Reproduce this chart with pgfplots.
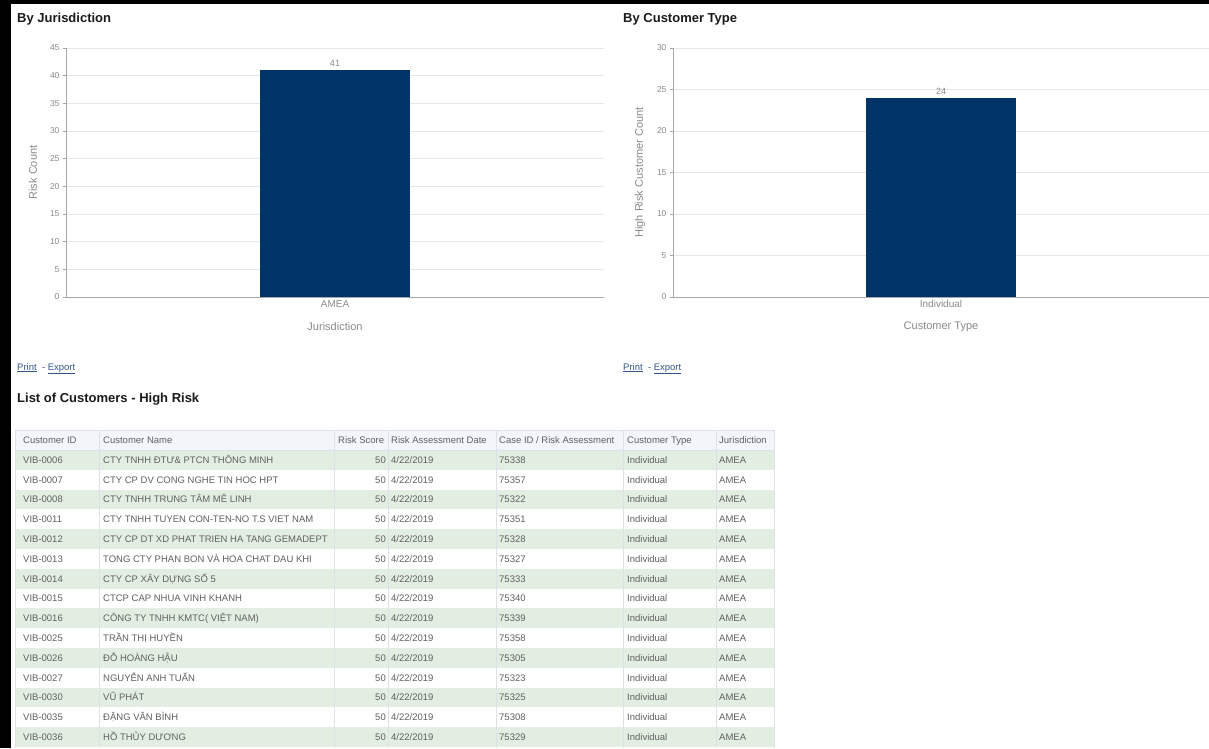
\documentclass[border=0pt]{standalone}
\usepackage{pgfplots}
\pgfplotsset{compat=1.18}
\usepackage{fontspec}
\setmainfont{Liberation Sans}
\definecolor{navy}{HTML}{003366}
\definecolor{gridc}{HTML}{E6E6E6}
\definecolor{axc}{HTML}{A8A8A8}
\definecolor{tickc}{HTML}{8A8A8A}
\definecolor{titlec}{HTML}{1A1A1A}
\definecolor{linkc}{HTML}{34558A}
\definecolor{rowg}{HTML}{E3EEE3}
\definecolor{hdr}{HTML}{F2F5F9}
\definecolor{sepc}{HTML}{DCE2E8}
\definecolor{txt}{HTML}{606060}

\pgfplotsset{
  barchart/.style={
    scale only axis, anchor=south west,
    axis x line*=bottom, axis y line*=left,
    axis line style={draw=axc, line width=0.8pt},
    ymajorgrids, grid style={draw=gridc, line width=0.9pt},
    xmin=-0.5, xmax=0.5, xtick={0},
    ymin=0, ytick align=outside, major tick length=3pt,
    ytick style={draw=axc, line width=0.6pt}, xtick style={draw=none},
    yticklabel style={font=\fontsize{8.5}{10}\selectfont, text=tickc},
    xticklabel style={font=\fontsize{10}{12}\selectfont, text=tickc},
    /pgf/number format/assume math mode=true,
    every axis y label/.style={at={(axis description cs:0,0.5)}, xshift=-33pt, rotate=90, anchor=center, font=\fontsize{11}{13}\selectfont, text=tickc},
    every axis x label/.style={at={(axis description cs:0.5,0)}, anchor=center, yshift=-30pt, font=\fontsize{11}{13}\selectfont, text=tickc},
    nodes near coords,
    every node near coord/.append style={font=\fontsize{9}{10}\selectfont, text=tickc},
  }
}

\newcommand\tfont{\fontsize{9.5}{11}\selectfont}
\newcommand\trow[4]{%
  \pgfmathsetmacro\yc{440+19.8*#1}%
  \ifodd#1\relax \fill[rowg] (15,{\yc-9.9}) rectangle (774,{\yc+9.9});\fi
  \node[anchor=base west, inner sep=0pt, text=txt, font=\tfont] at (23,{\yc+3.4}) {#2};
  \node[anchor=base west, inner sep=0pt, text=txt, font=\tfont] at (103,{\yc+3.4}) {#3};
  \node[anchor=base east, inner sep=0pt, text=txt, font=\tfont] at (386,{\yc+3.4}) {50};
  \node[anchor=base west, inner sep=0pt, text=txt, font=\tfont] at (391,{\yc+3.4}) {4/22/2019};
  \node[anchor=base west, inner sep=0pt, text=txt, font=\tfont] at (499,{\yc+3.4}) {#4};
  \node[anchor=base west, inner sep=0pt, text=txt, font=\tfont] at (627,{\yc+3.4}) {Individual};
  \node[anchor=base west, inner sep=0pt, text=txt, font=\tfont] at (719,{\yc+3.4}) {AMEA};
}

\begin{document}
\begin{tikzpicture}
\useasboundingbox (0pt,0pt) rectangle (1209pt,-748pt);
\fill[white] (0pt,0pt) rectangle (1209pt,-748pt);

% ---------- Chart 1 ----------
\begin{axis}[barchart, at={(66pt,-297pt)}, width=538pt, height=249pt,
  ymax=45, ytick={0,5,...,45}, xticklabels={AMEA},
  xlabel={Jurisdiction}, ylabel={Risk Count}]
\addplot[ybar, bar width=150pt, bar shift=0pt, fill=navy, draw=none] coordinates {(0,41)};
\end{axis}

% ---------- Chart 2 ----------
\begin{axis}[barchart, at={(673pt,-297pt)}, width=536pt, height=249pt,
  ymax=30, ytick={0,5,...,30}, xticklabels={Individual},
  xlabel={Customer Type}, ylabel={High Risk Customer Count}]
\addplot[ybar, bar width=150pt, bar shift=0pt, fill=navy, draw=none] coordinates {(0,24)};
\end{axis}

\begin{scope}[x=1pt,y=-1pt]
% titles
\node[anchor=base west, inner sep=0pt, font=\fontsize{13}{15}\selectfont\bfseries, text=titlec] at (17,22) {By Jurisdiction};
\node[anchor=base west, inner sep=0pt, font=\fontsize{13}{15}\selectfont\bfseries, text=titlec] at (623,22) {By Customer Type};
\node[anchor=base west, inner sep=0pt, font=\fontsize{13}{15}\selectfont\bfseries, text=titlec] at (17,402) {List of Customers - High Risk};
% print - export
\node[anchor=base west, inner sep=0pt, font=\fontsize{9.5}{11}\selectfont, text=linkc] at (17,370) {\underline{Print}\ \ -\ \underline{Export}};
\node[anchor=base west, inner sep=0pt, font=\fontsize{9.5}{11}\selectfont, text=linkc] at (623,370) {\underline{Print}\ \ -\ \underline{Export}};

% table header
\fill[hdr] (15,430) rectangle (774,450);
\foreach \i/\id/\nm/\cs in {
  1/VIB-0006/CTY TNHH ĐTƯ\& PTCN THÔNG MINH/75338,
  2/VIB-0007/CTY CP DV CONG NGHE TIN HOC HPT/75357,
  3/VIB-0008/CTY TNHH TRUNG TÂM MÊ LINH/75322,
  4/VIB-0011/CTY TNHH TUYEN CON-TEN-NO T.S VIET NAM/75351,
  5/VIB-0012/CTY CP DT XD PHAT TRIEN HA TANG GEMADEPT/75328,
  6/VIB-0013/TONG CTY PHAN BON VÀ HOA CHAT DAU KHI/75327,
  7/VIB-0014/CTY CP XÂY DỰNG SỐ 5/75333,
  8/VIB-0015/CTCP CAP NHUA VINH KHANH/75340,
  9/VIB-0016/CÔNG TY TNHH KMTC( VIỆT NAM)/75339,
  10/VIB-0025/TRẦN THỊ HUYỀN/75358,
  11/VIB-0026/ĐỖ HOÀNG HẬU/75305,
  12/VIB-0027/NGUYỄN ANH TUẤN/75323,
  13/VIB-0030/VŨ PHÁT/75325,
  14/VIB-0035/ĐẶNG VĂN BÌNH/75308,
  15/VIB-0036/HỒ THỦY DƯƠNG/75329}
  {\trow{\i}{\id}{\nm}{\cs}}
% separators
\foreach \x in {99,334,388,496,623,716}
  \draw[sepc, line width=0.7pt] (\x,430) -- (\x,748);
\draw[sepc, line width=0.8pt] (15,430) -- (774,430);
\draw[sepc, line width=0.8pt] (15,450) -- (774,450);
\draw[sepc, line width=0.8pt] (15,430) -- (15,748);
\draw[sepc, line width=0.8pt] (774,430) -- (774,748);
% header labels
\foreach \x/\t in {23/{Customer ID},103/{Customer Name},338/{Risk Score},391/{Risk Assessment Date},499/{Case ID / Risk Assessment},627/{Customer Type},719/{Jurisdiction}}
  \node[anchor=base west, inner sep=0pt, text=txt, font=\tfont] at (\x,443.4) {\t};

% black frame strips
\fill[black] (0,0) rectangle (11,748);
\fill[black] (0,0) rectangle (1209,4);
\end{scope}
\end{tikzpicture}
\end{document}
